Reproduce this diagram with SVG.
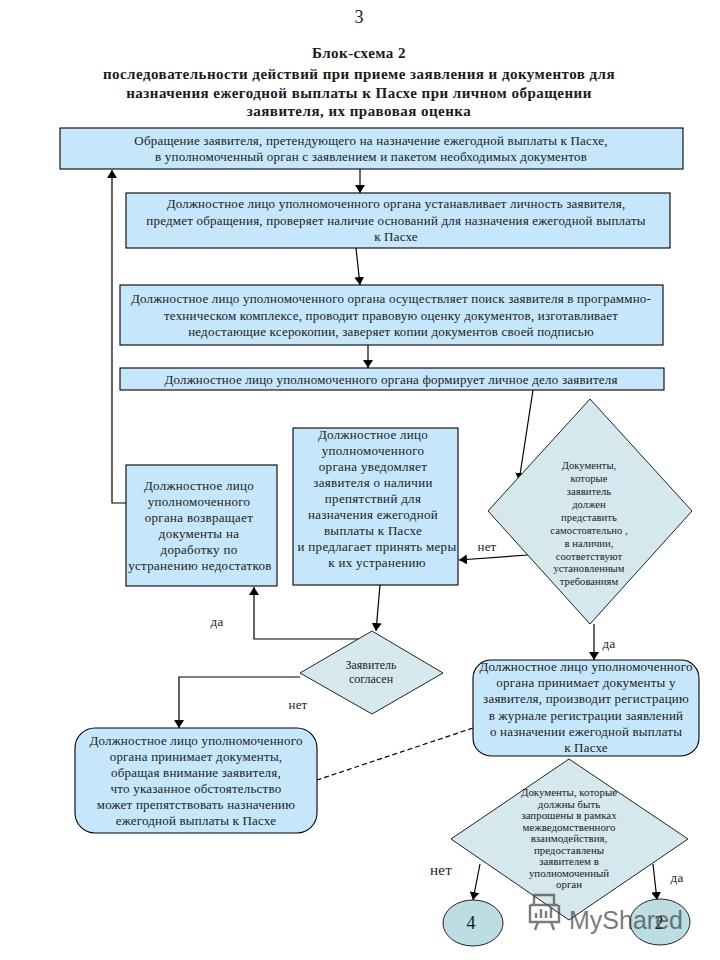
<svg xmlns="http://www.w3.org/2000/svg" width="720" height="960" viewBox="0 0 720 960">
<style>
text{font-family:"Liberation Serif","Times New Roman",serif;fill:#1a1a1a;text-anchor:middle;font-size:13px;letter-spacing:.2px}
.t{font-weight:bold;font-size:15px;letter-spacing:.47px}
.w{letter-spacing:.3px}
.b{fill:#c6e7fb;stroke:#000;stroke-width:1.1}
.d{fill:#d5e8ee;stroke:#222;stroke-width:1}
.c{fill:#bcdde4;stroke:#222;stroke-width:1}
.s{font-size:10.6px;letter-spacing:.05px}
.s2{font-size:10.9px;letter-spacing:0}
.l{fill:none;stroke:#000;stroke-width:1.2}
</style>
<defs><marker id="a" markerUnits="userSpaceOnUse" markerWidth="9" markerHeight="10" refX="8" refY="5" orient="auto"><path d="M0 0L8 5L0 10Z" fill="#000"/></marker></defs>
<rect width="720" height="960" fill="#fff"/>
<g id="title">
<text x="359" y="23" style="font-size:18px">3</text>
<text class="t" x="359" y="58">Блок-схема 2</text>
<text class="t" x="359" y="79">последовательности действий при приеме заявления и документов для</text>
<text class="t" x="359" y="98">назначения ежегодной выплаты к Пасхе при личном обращении</text>
<text class="t" x="359" y="116">заявителя,  их правовая оценка</text>
</g>
<g id="connectors">
<path class="l" marker-end="url(#a)" d="M360 169V193"/>
<path class="l" marker-end="url(#a)" d="M356 248L360 285"/>
<path class="l" marker-end="url(#a)" d="M368 345V368"/>
<path class="l" marker-end="url(#a)" d="M533 390L519 481"/>
<path class="l" marker-end="url(#a)" d="M528 555L459 560"/>
<path class="l" marker-end="url(#a)" d="M594 624V660"/>
<path class="l" marker-end="url(#a)" d="M380 585L376 631"/>
<path class="l" marker-end="url(#a)" d="M360 639H254V587"/>
<path class="l" marker-end="url(#a)" d="M300 677H179V728"/>
<path class="l" marker-end="url(#a)" d="M126 503H112V170"/>
<path class="l" stroke-dasharray="5 3" stroke-width="1" d="M473 728L317 780"/>
<path class="l" marker-end="url(#a)" d="M480 864L473 900"/>
<path class="l" marker-end="url(#a)" d="M653 864L657 900"/>
</g>
<g id="n1"><rect class="b" x="60" y="128" width="623" height="41"/>
<text x="371" y="145">Обращение заявителя, претендующего на назначение ежегодной выплаты к Пасхе,</text>
<text x="371" y="161">в уполномоченный орган с заявлением и пакетом необходимых документов</text></g>
<g id="n2"><rect class="b" x="126" y="193" width="544" height="55"/>
<text x="396" y="208">Должностное лицо уполномоченного органа устанавливает личность заявителя,</text>
<text x="396" y="225">предмет обращения, проверяет наличие оснований для назначения ежегодной выплаты</text>
<text x="396" y="241">к Пасхе</text></g>
<g id="n3"><rect class="b" x="120" y="285" width="543" height="60"/>
<text x="391" y="303">Должностное лицо уполномоченного органа осуществляет поиск заявителя в программно-</text>
<text x="391" y="320">техническом комплексе, проводит правовую оценку документов, изготавливает</text>
<text x="391" y="336">недостающие ксерокопии, заверяет копии документов своей подписью</text></g>
<g id="n4"><rect class="b" x="120" y="368" width="544" height="22"/>
<text x="391" y="384">Должностное лицо уполномоченного органа формирует личное дело заявителя</text></g>
<g id="n5"><rect class="b" x="126" y="465" width="151" height="121"/>
<text class="w" x="199" y="490">Должностное лицо</text>
<text class="w" x="199" y="506">уполномоченного</text>
<text class="w" x="199" y="522">органа возвращает</text>
<text class="w" x="199" y="538">документы на</text>
<text class="w" x="199" y="554">доработку по</text>
<text class="w" x="200" y="570">устранению недостатков</text></g>
<g id="n6"><rect class="b" x="293" y="428" width="165" height="157"/>
<text class="w" x="373" y="439">Должностное лицо</text>
<text class="w" x="373" y="455">уполномоченного</text>
<text class="w" x="373" y="471">органа уведомляет</text>
<text class="w" x="373" y="487">заявителя о наличии</text>
<text class="w" x="373" y="503">препятствий для</text>
<text class="w" x="373" y="519">назначения ежегодной</text>
<text class="w" x="373" y="535">выплаты к Пасхе</text>
<text class="w" x="377" y="551">и предлагает принять меры</text>
<text class="w" x="377" y="567">к их устранению</text></g>
<g id="n7"><path class="d" d="M590 399L692 511L590 624L488 511Z"/>
<text class="s" x="589" y="469">Документы,</text>
<text class="s" x="589" y="482">которые</text>
<text class="s" x="589" y="495">заявитель</text>
<text class="s" x="589" y="508">должен</text>
<text class="s" x="589" y="521">представить</text>
<text class="s" x="589" y="534">самостоятельно ,</text>
<text class="s" x="589" y="547">в наличии,</text>
<text class="s" x="589" y="560">соответствуют</text>
<text class="s" x="589" y="572">установленным</text>
<text class="s" x="589" y="585">требованиям</text></g>
<g id="n8"><path class="d" d="M372 631L443 673L372 714L300 673Z"/>
<text x="371" y="669" style="font-size:12px;letter-spacing:0">Заявитель</text>
<text x="371" y="683" style="font-size:12px;letter-spacing:0">согласен</text></g>
<g id="n9"><rect class="b" x="473" y="660" width="226" height="96" rx="18"/>
<text x="586" y="671">Должностное лицо уполномоченного</text>
<text x="586" y="687">органа принимает документы у</text>
<text x="586" y="703">заявителя, производит регистрацию</text>
<text x="586" y="720">в журнале  регистрации заявлений</text>
<text x="586" y="736">о назначении ежегодной выплаты</text>
<text x="586" y="752">к Пасхе</text></g>
<g id="n10"><rect class="b" x="75" y="728" width="242" height="105" rx="20"/>
<text x="196" y="745">Должностное лицо уполномоченного</text>
<text x="196" y="761">органа принимает документы,</text>
<text x="196" y="777">обращая внимание заявителя,</text>
<text x="196" y="793">что указанное обстоятельство</text>
<text x="196" y="809">может препятствовать назначению</text>
<text x="196" y="825">ежегодной выплаты к Пасхе</text></g>
<g id="n11"><path class="d" d="M569 759L688 839L569 920L451 839Z"/>
<text class="s2" x="569" y="796">Документы, которые</text>
<text class="s2" x="569" y="808">должны быть</text>
<text class="s2" x="569" y="819">запрошены в рамках</text>
<text class="s2" x="569" y="831">межведомственного</text>
<text class="s2" x="569" y="842">взаимодействия,</text>
<text class="s2" x="569" y="854">предоставлены</text>
<text class="s2" x="569" y="865">заявителем в</text>
<text class="s2" x="569" y="877">уполномоченный</text>
<text class="s2" x="569" y="888">орган</text></g>
<g id="n12"><ellipse class="c" cx="473" cy="923" rx="30" ry="23"/><text x="471" y="929" style="font-size:18px">4</text></g>
<g id="n13"><ellipse class="c" cx="660" cy="922" rx="30" ry="23"/><text x="659" y="929" style="font-size:18px">2</text></g>
<g id="labels">
<text x="217" y="626">да</text>
<text x="298" y="709">нет</text>
<text x="487" y="551">нет</text>
<text x="609" y="648">да</text>
<text x="441" y="875" style="font-size:15px">нет</text>
<text x="677" y="882">да</text>
</g>
<g id="watermark" opacity=".7">
<path d="M530 905H558M534 905V895H554V905M530 905V922H559V905M536 918V913M541 918V909M546 918V911M551 918V907M538 922L535 930M551 922L554 930" fill="none" stroke="#444" stroke-width="2.4"/>
<text x="626" y="929" style="font-size:25px;letter-spacing:0;font-family:'Liberation Sans',sans-serif;fill:#444">MyShared</text>
</g>
</svg>
